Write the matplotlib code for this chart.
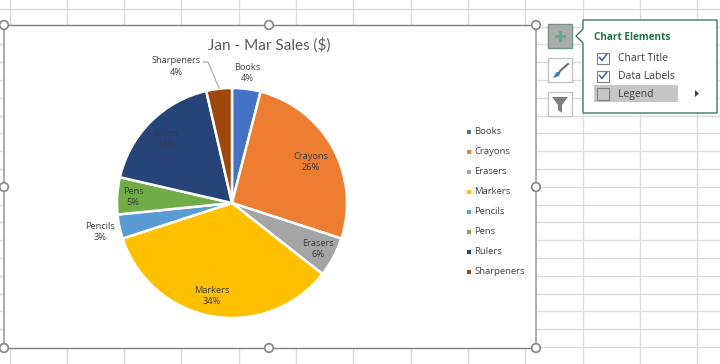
import matplotlib
matplotlib.use("Agg")
import matplotlib.pyplot as plt
from matplotlib.patches import Circle, Rectangle, Polygon

categories = ["Books", "Crayons", "Erasers", "Markers", "Pencils", "Pens", "Rulers", "Sharpeners"]
sales = [4.0, 26.0, 5.6, 34.4, 3.4, 5.2, 17.8, 3.6]
colors = ["#4472C4", "#ED7D31", "#A5A5A5", "#FFC000", "#5B9BD5", "#70AD47", "#264478", "#9E480E"]
title = "Jan - Mar Sales ($)"
menu_title = "Chart Elements"
menu_items = ["Chart Title", "Data Labels", "Legend"]
menu_checked = [True, True, False]

# label centres on the picture, in pixels
label_pos = [(247, 73), (311, 162), (318, 249), (212, 296), (100, 232), (133, 197), (166, 139), (176, 66.5)]
legend_y = [131.5, 152, 171.5, 192, 211.5, 232, 251.5, 272]

plt.rcParams["font.family"] = ["Open Sans", "DejaVu Sans"]
TXT = "#404040"

fig = plt.figure(figsize=(7.2, 3.64), dpi=100)
bg = fig.add_axes([0, 0, 1, 1])
bg.set_xlim(0, 720)
bg.set_ylim(364, 0)
bg.axis("off")

# worksheet grid
for i in range(13):
    bg.axvline(9.5 + 57.3 * i, color="#dcdcdc", lw=1, zorder=1)
for i in range(20):
    bg.axhline(347 - 17.8 * i, color="#dcdcdc", lw=1, zorder=1)

# chart area
bg.add_patch(Rectangle((4, 25), 532, 323, fc="white", ec="none", zorder=2))
bg.plot([4, 536], [25, 25], color="#808080", lw=1, zorder=3)
bg.plot([4, 536], [348, 348], color="#808080", lw=1, zorder=3)
bg.plot([4, 4], [25, 348], color="#a8a8a8", lw=1.3, zorder=3)
bg.plot([536, 536], [25, 348], color="#a8a8a8", lw=1.3, zorder=3)

# pie goes on its own axes so the wedges run the normal way
pie_ax = fig.add_axes([117 / 720, 1 - 318 / 364, 230 / 720, 230 / 364], zorder=3)
pie_ax.pie(sales, colors=colors, startangle=90, counterclock=False, radius=1,
           wedgeprops={"edgecolor": "white", "linewidth": 1.8})
pie_ax.set_xlim(-1, 1)
pie_ax.set_ylim(-1, 1)

top = fig.add_axes([0, 0, 1, 1], zorder=4)
top.set_xlim(0, 720)
top.set_ylim(364, 0)
top.axis("off")
top.patch.set_alpha(0)

top.text(269, 45, title, ha="center", va="center", fontsize=11, color="#595959", family="Lato")

for name, val, (x, y) in zip(categories, sales, label_pos):
    c = TXT
    if name in ("Crayons", "Erasers", "Markers", "Pens"):
        c = "#3a3a3a"
    if name == "Rulers":
        c = "#2f3b57"
    top.text(x, y, f"{name}\n{val:.0f}%", ha="center", va="center", fontsize=6.7, color=c, linespacing=1.4)

# leader line for Sharpeners
top.plot([203, 208, 219], [62, 62, 88], color="#a6a6a6", lw=0.8)

# legend
for name, c, y in zip(categories, colors, legend_y):
    top.add_patch(Rectangle((466.7, y - 2), 4.3, 4.3, fc=c, ec="none"))
    top.text(474, y, name, ha="left", va="center", fontsize=6.8, color=TXT)

# resize handles
for hx, hy in [(4, 25), (269, 25), (536, 25), (4, 187), (536, 187), (4, 348), (269, 348), (536, 348)]:
    top.add_patch(Circle((hx, hy), 4.3, fc="white", ec="#858585", lw=1.2, zorder=6))

# side buttons
top.add_patch(Rectangle((548, 24), 24, 24, fc="#a9aeaa", ec="#6f9585", lw=1))
top.add_patch(Rectangle((555, 34.5), 11, 3.4, fc="#5fae8f", ec="none"))
top.add_patch(Rectangle((558.8, 30.5), 3.4, 11.4, fc="#5fae8f", ec="none"))
for by in [58, 92]:
    top.add_patch(Rectangle((548, by), 24, 24, fc="white", ec="#c4c4c4", lw=1))
top.add_patch(Polygon([(553, 78), (556, 72.5), (561, 71), (559, 76)], fc="#4a7ebb", ec="none"))
top.plot([560, 568], [71, 64], color="#666666", lw=1.4)
top.add_patch(Polygon([(552, 97), (568, 97), (562, 105), (562, 113), (558, 110), (558, 105)],
                      fc="#7f7f7f", ec="none"))

# Chart Elements flyout
top.add_patch(Polygon([(583, 20), (717, 20), (717, 113), (583, 113), (583, 43), (576, 36), (583, 29)],
                      fc="white", ec="#3f7a63", lw=1, zorder=5))
top.text(594, 38, menu_title, ha="left", va="center", fontsize=7.2, fontweight="bold", color="#217346", zorder=7)
top.add_patch(Rectangle((594, 85), 84, 17, fc="#c6c6c6", ec="none", zorder=6))
for name, on, y in zip(menu_items, menu_checked, [58.5, 76.5, 94]):
    top.add_patch(Rectangle((597, y - 6), 11.5, 11.5, fc="white" if on else "#c6c6c6", ec="#7f7f7f", lw=0.8, zorder=7))
    if on:
        top.plot([599.5, 602, 606.5], [y - 1, y + 2, y - 4], color="#3f6fa8", lw=1.2, zorder=8)
    top.text(618, y, name, ha="left", va="center", fontsize=7.5, color=TXT, zorder=8)
top.add_patch(Polygon([(695, 90), (695, 97), (699, 93.5)], fc="#404040", ec="none", zorder=7))

fig.savefig("out.png", dpi=100)
plt.close(fig)
